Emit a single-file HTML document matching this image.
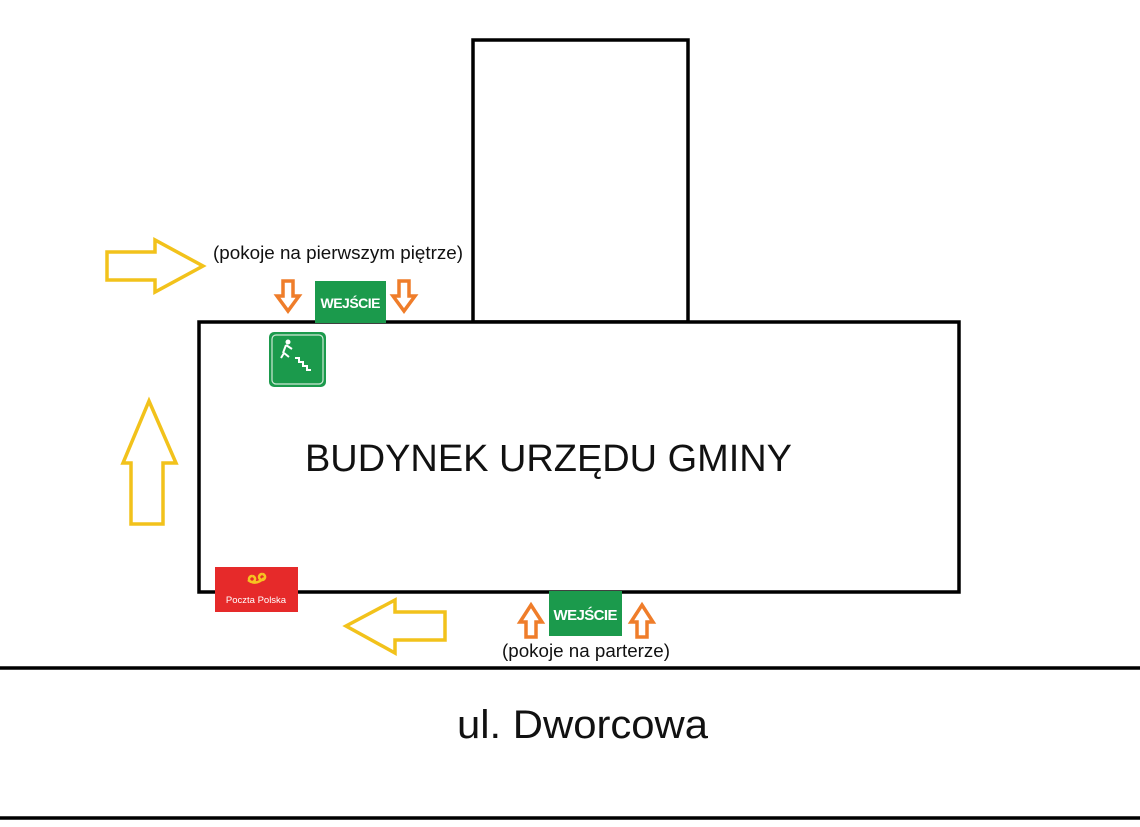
<!DOCTYPE html>
<html><head><meta charset="utf-8"><style>
html,body{margin:0;padding:0;background:#fff;width:1140px;height:827px;overflow:hidden}
text{font-family:"Liberation Sans","DejaVu Sans",sans-serif}
</style></head><body>
<svg width="1140" height="827" viewBox="0 0 1140 827" xmlns="http://www.w3.org/2000/svg">
<rect x="473" y="40" width="215" height="282" fill="#fff" stroke="#000" stroke-width="3.5"/>
<rect x="199" y="322" width="760" height="270" fill="#fff" stroke="#000" stroke-width="3.5"/>
<line x1="0" y1="668" x2="1140" y2="668" stroke="#000" stroke-width="3.5"/>
<line x1="0" y1="818" x2="1140" y2="818" stroke="#000" stroke-width="3.5"/>
<polygon points="107,252 155,252 155,240 203,266 155,292 155,280 107,280" fill="#fff" stroke="#f2c21b" stroke-width="3.5" stroke-linejoin="miter"/>
<polygon points="131,524 131,463 123,463 149,401 176,463 163,463 163,524" fill="#fff" stroke="#f2c21b" stroke-width="3.5"/>
<polygon points="445,612 395,612 395,600 346,626 395,653 395,640 445,640" fill="#fff" stroke="#f2c21b" stroke-width="3.5"/>
<g fill="#fff" stroke="#ef7d2a" stroke-width="3.5">
<polygon points="283,281 293,281 293,296 299,296 288,311 277,296 283,296"/>
<polygon points="399,281 409,281 409,296 415,296 404,311 393,296 399,296"/>
<polygon points="526,637 536,637 536,622 542,622 531,605 520,622 526,622"/>
<polygon points="637,637 647,637 647,622 653,622 642,605 631,622 637,622"/>
</g>
<rect x="315" y="281" width="71" height="42" fill="#1b9a4c"/>
<text x="350.5" y="308" font-size="14" font-weight="bold" fill="#fff" text-anchor="middle" textLength="60">WEJŚCIE</text>
<rect x="549" y="591" width="73" height="45" fill="#1b9a4c"/>
<text x="585.5" y="620" font-size="15" font-weight="bold" fill="#fff" text-anchor="middle" textLength="64">WEJŚCIE</text>
<rect x="269" y="332" width="57" height="55" rx="5" fill="#1b9a4c"/>
<rect x="272" y="335" width="51" height="49" rx="4" fill="none" stroke="#cfe8d6" stroke-width="1.2"/>
<circle cx="288" cy="342" r="2.5" fill="#fff"/>
<path d="M286 345 L283 353 M286 345 L292 349 M284 353 L281 358 M284 353 L289 357 M295 358 h4 v4 h4 v4 h4 v4 h4" stroke="#fff" stroke-width="2" fill="none"/>
<rect x="215" y="567" width="83" height="45" fill="#e62a2a"/>
<path d="M248 580 q8 6 16 -2 M252 576 a3 3 0 1 0 0.1 0 M262 574 a3 3 0 1 0 0.1 0" stroke="#f6c321" stroke-width="2.5" fill="none"/>
<text x="256" y="603" font-size="9.5" fill="#fff" text-anchor="middle">Poczta Polska</text>
<text x="213" y="259" font-size="18" fill="#111" textLength="250" lengthAdjust="spacingAndGlyphs">(pokoje na pierwszym piętrze)</text>
<text x="502" y="657" font-size="18" fill="#111" textLength="168" lengthAdjust="spacingAndGlyphs">(pokoje na parterze)</text>
<text x="305" y="471" font-size="38" fill="#111" textLength="487" lengthAdjust="spacingAndGlyphs">BUDYNEK URZĘDU GMINY</text>
<text x="457" y="738" font-size="40" fill="#111" textLength="251" lengthAdjust="spacingAndGlyphs">ul. Dworcowa</text>
</svg>
</body></html>
